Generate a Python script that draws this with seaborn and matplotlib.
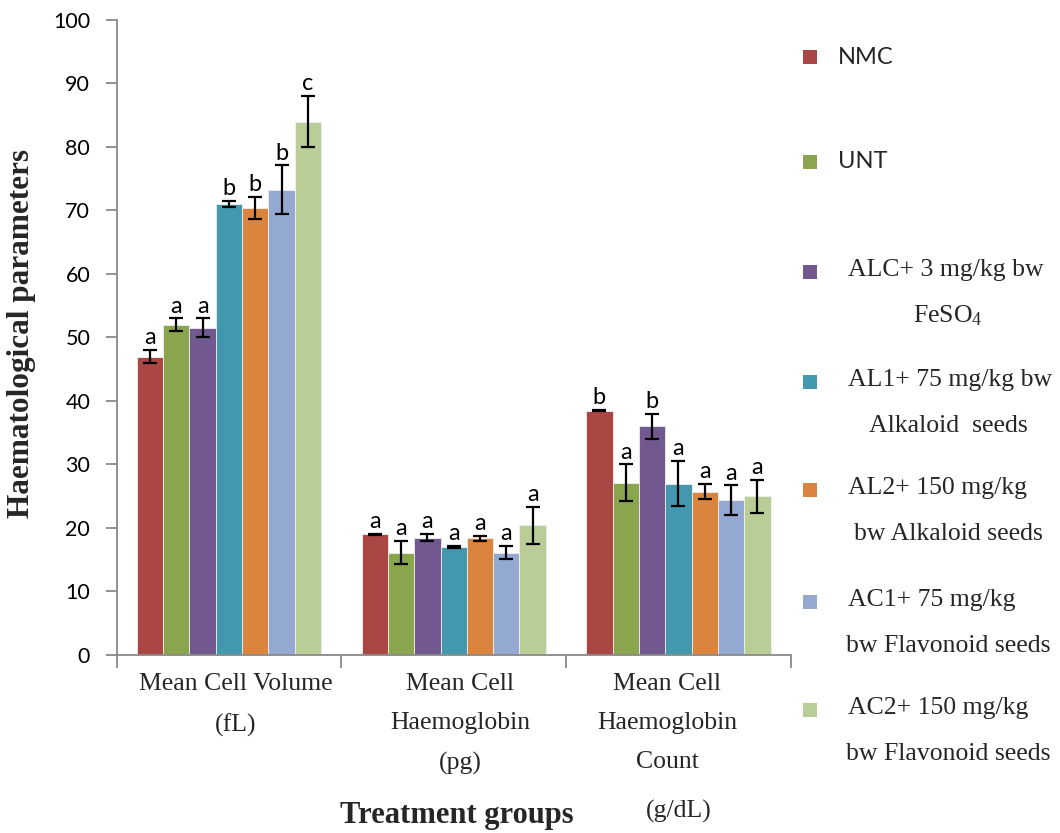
import numpy as np
import pandas as pd
import matplotlib
matplotlib.use("Agg")
import matplotlib.pyplot as plt
from matplotlib.patches import Rectangle
import seaborn as sns

# ---------------- data ----------------
parameters = ["Mean Cell Volume\n(fL)",
              "Mean Cell\nHaemoglobin\n(pg)",
              "Mean Cell\nHaemoglobin\nCount"]
groups = ["NMC", "UNT", "ALC", "AL1", "AL2", "AC1", "AC2"]
legend_labels = ["NMC", "UNT",
                 "ALC+ 3 mg/kg bw\nFeSO$_4$",
                 "AL1+ 75 mg/kg bw\nAlkaloid  seeds",
                 "AL2+ 150 mg/kg\nbw Alkaloid seeds",
                 "AC1+ 75 mg/kg\nbw Flavonoid seeds",
                 "AC2+ 150 mg/kg\nbw Flavonoid seeds"]
colors = ["#AA4643", "#89A54E", "#71588F", "#4198AF", "#DB843D", "#93A9CF", "#B9CD96"]

mcv_mean = [47.0, 52.0, 51.5, 71.0, 70.4, 73.3, 84.0]
mcv_err = [1.0, 1.0, 1.5, 0.5, 1.7, 3.8, 4.0]
mch_mean = [19.0, 16.1, 18.5, 17.0, 18.4, 16.1, 20.4]
mch_err = [0.1, 1.8, 0.5, 0.1, 0.4, 1.0, 2.9]
mchc_mean = [38.5, 27.1, 36.0, 27.0, 25.7, 24.4, 25.0]
mchc_err = [0.1, 2.9, 2.0, 3.5, 1.2, 2.3, 2.6]
mcv_sig = ["a", "a", "a", "b", "b", "b", "c"]
mch_sig = ["a", "a", "a", "a", "a", "a", "a"]
mchc_sig = ["b", "a", "b", "a", "a", "a", "a"]

y_ticks = [0, 10, 20, 30, 40, 50, 60, 70, 80, 90, 100]

means = [mcv_mean, mch_mean, mchc_mean]
errs = [mcv_err, mch_err, mchc_err]
sigs = [mcv_sig, mch_sig, mchc_sig]

rows = []
for p, m, e, s in zip(parameters, means, errs, sigs):
    for g, v, ev, sv in zip(groups, m, e, s):
        rows.append({"parameter": p, "group": g, "value": v, "err": ev, "sig": sv})
df = pd.DataFrame(rows)

# ---------------- plot ----------------
sns.set_style("white")
plt.rcParams["mathtext.fontset"] = "custom"
plt.rcParams["mathtext.rm"] = "Liberation Serif"
plt.rcParams["mathtext.it"] = "Liberation Serif:italic"

fig = plt.figure(figsize=(10.6, 8.33), dpi=100)
ax = fig.add_axes([0.110, 0.2137, 0.636, 0.7623])

sns.barplot(data=df, x="parameter", y="value", hue="group", hue_order=groups,
            order=parameters, palette=colors, saturation=1, width=0.82,
            errorbar=None, edgecolor="#F0F0F0", linewidth=0.6, ax=ax,
            legend=False)

bar_containers = list(ax.containers)
for ci, cont in enumerate(bar_containers):
    g = groups[ci]
    sub = df[df["group"] == g].set_index("parameter").loc[parameters]
    xs = [b.get_x() + b.get_width() / 2 for b in cont]
    hs = [b.get_height() for b in cont]
    ax.errorbar(xs, hs, yerr=sub["err"].values, fmt="none", ecolor="black",
                elinewidth=1.6, capsize=5, capthick=1.6, zorder=5)
    for x, h, e, s in zip(xs, hs, sub["err"].values, sub["sig"].values):
        ax.text(x, h + e + 0.3, s, ha="center", va="bottom", fontsize=17,
                family="Lato", color="black", zorder=6)

ax.set_ylim(0, 100)
ax.set_xlim(-0.5, 2.5)
ax.set_yticks(y_ticks)
ax.set_yticklabels([str(t) for t in y_ticks], family="Lato", fontsize=15.5)

# category labels as text, tick marks at boundaries
label_shift = [0.03, 0.03, -0.05]
ax.set_xticks([-0.5, 0.5, 1.5, 2.5])
ax.set_xticklabels([])
for i, p in enumerate(parameters):
    ax.text(i + label_shift[i], -2.9, p, transform=ax.transData, ha="center",
            va="top", family="Liberation Serif", fontsize=18.5, linespacing=2.0)

for side in ["top", "right"]:
    ax.spines[side].set_visible(False)
for side in ["left", "bottom"]:
    ax.spines[side].set_color("#898989")
    ax.spines[side].set_linewidth(1.3)
ax.tick_params(axis="y", direction="out", length=8, width=1.3, color="#898989",
               left=True, pad=11, labelcolor="black")
ax.tick_params(axis="x", direction="out", length=9, width=1.3, color="#898989",
               bottom=True)

ax.set_xlabel("")
ax.set_ylabel("")
fig.text(22 / 1060, 1 - 333 / 833, "Haematological parameters",
         family="Liberation Serif", fontweight="bold", fontsize=22.5,
         rotation=90, ha="center", va="center")
fig.text(457 / 1060, 1 - 815 / 833, "Treatment groups", family="Liberation Serif",
         fontweight="bold", fontsize=22, ha="center", va="center")
fig.text(679 / 1060, 1 - 811 / 833, "(g/dL)", family="Liberation Serif",
         fontsize=18.5, ha="center", va="center")

# legend (manual)
leg_y = [57, 162, 272, 382, 490, 602, 710]
for lbl, col, y in zip(legend_labels, colors, leg_y):
    fig.patches.append(Rectangle((803 / 1060, 1 - (y + 7) / 833), 14 / 1060, 14 / 833,
                                 transform=fig.transFigure, facecolor=col,
                                 edgecolor="none"))
    lines = lbl.split("\n")
    if len(lines) == 1:
        fig.text(838 / 1060, 1 - y / 833, lines[0], family="Lato", fontsize=17,
                 ha="left", va="center")
    else:
        fig.text(848 / 1060, 1 - (y - 2) / 833, lines[0], family="Liberation Serif",
                 fontsize=18.5, ha="left", va="center")
        fig.text(948 / 1060, 1 - (y + 44) / 833, lines[1], family="Liberation Serif",
                 fontsize=18.5, ha="center", va="center")

fig.savefig("out.png", dpi=100)
